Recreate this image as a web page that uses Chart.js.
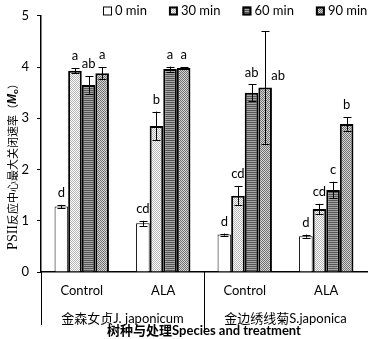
<!DOCTYPE html>
<html>
<head>
<meta charset="utf-8">
<script src="https://cdn.jsdelivr.net/npm/chart.js@4/dist/chart.umd.min.js"></script>
<style>
html,body{margin:0;padding:0;background:#fff;}
#wrap{width:370px;height:339px;}
</style>
</head>
<body>
<div id="wrap"><canvas id="c" width="370" height="339"></canvas></div>
<script>
// ---- data ----
const categories = ['Control', 'ALA', 'Control', 'ALA'];
const species = ['金森女贞J. japonicum', '金边绣线菊S.japonica'];
const seriesNames = ['0 min', '30 min', '60 min', '90 min'];
const v0  = [1.28, 0.95, 0.73, 0.70];
const v30 = [3.93, 2.85, 1.49, 1.23];
const v60 = [3.65, 3.96, 3.50, 1.60];
const v90 = [3.88, 3.98, 3.60, 2.89];
const e0  = [0.03, 0.05, 0.02, 0.03];
const e30 = [0.05, 0.28, 0.19, 0.10];
const e60 = [0.17, 0.05, 0.16, 0.16];
const e90 = [0.12, 0.02, 1.10, 0.13];
const l0  = ['d', 'cd', 'd', 'd'];
const l30 = ['a', 'b', 'cd', 'cd'];
const l60 = ['ab', 'a', 'ab', 'c'];
const l90 = ['a', 'a', 'ab', 'b'];
const yTicks = [0, 1, 2, 3, 4, 5];
const xTitle = '树种与处理Species and treatment';
const yTitleParts = ['PSII', '反应中心最大关闭速率', '（', 'M', 'o', '）'];

// ---- patterns ----
function makePattern(w, h, painter) {
  const c = document.createElement('canvas');
  c.width = w; c.height = h;
  const g = c.getContext('2d');
  painter(g);
  return document.getElementById('c').getContext('2d').createPattern(c, 'repeat');
}
const pWhite = '#ffffff';
const p30 = makePattern(2, 2, g => {
  g.fillStyle = '#ffffff'; g.fillRect(0, 0, 2, 2);
  g.fillStyle = '#b4b4b4'; g.fillRect(0, 0, 1, 1); g.fillRect(1, 1, 1, 1);
});
const p60 = makePattern(2, 2, g => {
  g.fillStyle = '#555555'; g.fillRect(0, 0, 2, 1);
  g.fillStyle = '#a6a6a6'; g.fillRect(0, 1, 2, 1);
});
const p90 = makePattern(2, 2, g => {
  g.fillStyle = '#d6d6d6'; g.fillRect(0, 0, 2, 2);
  g.fillStyle = '#707070'; g.fillRect(0, 0, 1, 1); g.fillRect(1, 1, 1, 1);
});

const values = [v0, v30, v60, v90];
const errors = [e0, e30, e60, e90];
const letters = [l0, l30, l60, l90];
const fills = [pWhite, p30, p60, p90];
const borderWidths = [1, 2, 2, 2];

const FONT = 'Lato, "Noto Sans CJK SC", sans-serif';

const datasets = seriesNames.map((n, i) => ({
  label: n,
  data: values[i],
  backgroundColor: fills[i],
  borderColor: '#000',
  borderWidth: borderWidths[i],
  categoryPercentage: 0.667,
  barPercentage: 1.0
}));

// error bars + letters + legend + extra axis parts
const annotate = {
  id: 'annotate',
  afterDatasetsDraw(chart) {
    const ctx = chart.ctx;
    const y = chart.scales.y;
    ctx.save();
    ctx.strokeStyle = '#000';
    ctx.lineWidth = 1;
    ctx.fillStyle = '#000';
    ctx.font = '13px ' + FONT;
    ctx.textAlign = 'center';
    ctx.textBaseline = 'middle';
    chart.data.datasets.forEach((ds, di) => {
      const meta = chart.getDatasetMeta(di);
      meta.data.forEach((bar, k) => {
        const v = values[di][k], e = errors[di][k];
        const yt = y.getPixelForValue(v + e);
        const yb = y.getPixelForValue(v - e);
        const x = Math.round(bar.x) + 0.5;
        ctx.beginPath();
        ctx.moveTo(x, yt); ctx.lineTo(x, yb);
        ctx.moveTo(x - 4, Math.round(yt) + 0.5); ctx.lineTo(x + 4, Math.round(yt) + 0.5);
        ctx.moveTo(x - 4, Math.round(yb) + 0.5); ctx.lineTo(x + 4, Math.round(yb) + 0.5);
        ctx.stroke();
        const lab = letters[di][k];
        if (e > 0.5) {
          ctx.fillText(lab, bar.x + 13, y.getPixelForValue(v) - 12);
        } else {
          ctx.fillText(lab, bar.x, yt - 12);
        }
      });
    });
    ctx.restore();
  },
  afterDraw(chart) {
    const ctx = chart.ctx;
    const xs = chart.scales.x;
    const ca = chart.chartArea;
    ctx.save();
    ctx.strokeStyle = '#000';
    ctx.lineWidth = 1;
    // group separators below the axis
    ctx.beginPath();
    const xl = Math.round(ca.left) + 0.5;
    ctx.moveTo(xl, ca.bottom); ctx.lineTo(xl, ca.bottom + 53);
    const xm = Math.round(xs.getPixelForValue(1.5)) + 0.5;
    ctx.moveTo(xm, ca.bottom); ctx.lineTo(xm, ca.bottom + 59);
    ctx.stroke();

    // legend (horizontal, inside the plot area, right aligned)
    ctx.font = '13px ' + FONT;
    ctx.textBaseline = 'middle';
    ctx.textAlign = 'left';
    const box = 9, gapBox = 3, gapItem = 22, ly = 11;
    const widths = chart.data.datasets.map(d => box + gapBox + ctx.measureText(d.label).width);
    const total = widths.reduce((a, b) => a + b, 0) + gapItem * (widths.length - 1);
    let lx = Math.round(ca.right - total);
    chart.data.datasets.forEach((d, i) => {
      const bw = d.borderWidth;
      ctx.fillStyle = d.backgroundColor;
      ctx.fillRect(lx, ly - box / 2, box, box);
      ctx.lineWidth = bw;
      ctx.strokeStyle = '#000';
      ctx.strokeRect(lx + bw / 2, ly - box / 2 + bw / 2, box - bw, box - bw);
      ctx.fillStyle = '#000';
      ctx.fillText(d.label, lx + box + gapBox, ly);
      lx += widths[i] + gapItem;
    });

    // y title
    ctx.translate(13, 164);
    ctx.rotate(-Math.PI / 2);
    ctx.fillStyle = '#000';
    ctx.textBaseline = 'middle';
    ctx.textAlign = 'left';
    const segs = [
      [yTitleParts[0], '14px "Liberation Serif", serif', 0],
      [yTitleParts[1], '11px "Noto Sans CJK SC", sans-serif', 0],
      [yTitleParts[2], '11px "Noto Sans CJK SC", sans-serif', 0],
      [yTitleParts[3], 'italic bold 12px "Liberation Sans", sans-serif', 0],
      [yTitleParts[4], 'bold 8px "Liberation Sans", sans-serif', 3],
      [yTitleParts[5], '11px "Noto Sans CJK SC", sans-serif', 0]
    ];
    let tw = 0;
    segs.forEach(s => { ctx.font = s[1]; tw += ctx.measureText(s[0]).width; });
    let px = -tw / 2;
    segs.forEach(s => {
      ctx.font = s[1];
      ctx.fillText(s[0], px, s[2]);
      px += ctx.measureText(s[0]).width;
    });
    ctx.restore();
  }
};

new Chart(document.getElementById('c'), {
  type: 'bar',
  data: { labels: categories, datasets },
  options: {
    responsive: false,
    animation: false,
    devicePixelRatio: 1,
    layout: { padding: { top: 8, right: 3, left: 0, bottom: 0 } },
    plugins: {
      legend: { display: false },
      tooltip: { enabled: false }
    },
    scales: {
      x: {
        type: 'category',
        offset: true,
        grid: { display: false, drawTicks: false },
        border: { display: true, color: '#000', width: 1.5 },
        ticks: { color: '#000', font: { size: 13, family: FONT }, padding: 11 },
        afterFit(s) { s.height = 30; }
      },
      x2: {
        type: 'category',
        labels: species,
        position: 'bottom',
        offset: true,
        grid: { display: false, drawTicks: false },
        border: { display: false },
        ticks: { color: '#000', font: { size: 13, family: FONT }, padding: 9 },
        title: {
          display: true, text: xTitle, color: '#000',
          font: { size: 13, weight: 'bold', family: FONT },
          padding: { top: 0, bottom: 0 }
        },
        afterFit(s) { s.height = 37; }
      },
      y: {
        min: 0, max: 5,
        afterBuildTicks(s) { s.ticks = yTicks.map(v => ({ value: v })); },
        grid: { display: true, drawOnChartArea: false, drawTicks: true, tickLength: 4, color: '#000' },
        border: { display: true, color: '#000', width: 1.5 },
        ticks: { color: '#000', font: { size: 13, family: FONT }, padding: 8 },
        afterFit(s) { s.width = 41; }
      }
    }
  },
  plugins: [annotate]
});
</script>
</body>
</html>
